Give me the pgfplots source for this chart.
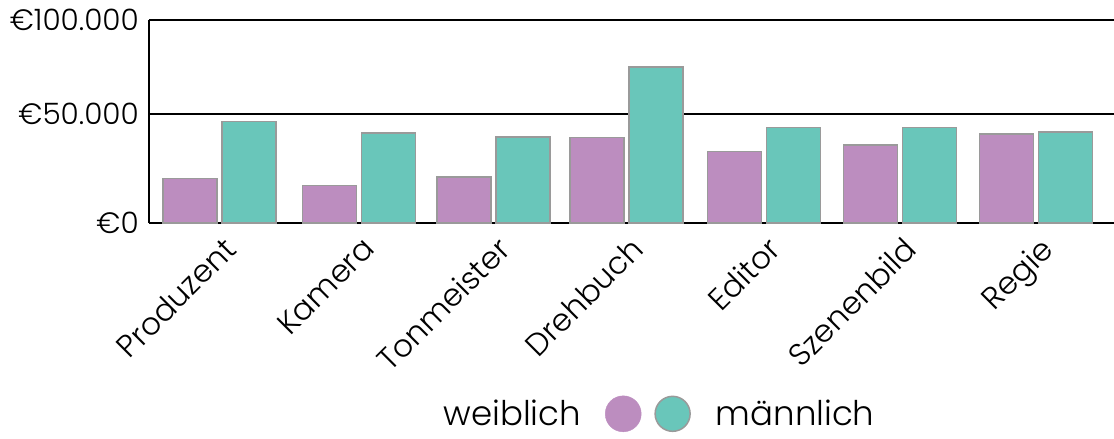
\documentclass[border=0pt]{standalone}
\usepackage{pgfplots}
\pgfplotsset{compat=1.18}
\usepackage{fontspec}
\setmainfont{Poppins}[UprightFont={* Light}]
\definecolor{weibl}{HTML}{BC8DBF}
\definecolor{maennl}{HTML}{69C6BA}
\definecolor{rand}{HTML}{9A9A9A}
\begin{document}
\begin{tikzpicture}
\begin{axis}[
  at={(0pt,0pt)}, anchor=south west,
  scale only axis, width=965pt, height=203pt,
  bar width=54pt,
  xmin=-0.518, xmax=6.572,
  ymin=0, ymax=100,
  y coord trafo/.code={\pgfmathparse{ifthenelse(#1<=50,#1,50+(#1-50)*0.8624)}},
  xtick={0,1.025,2.012,2.992,4,5,6},
  xticklabels={Produzent,Kamera,Tonmeister,Drehbuch,Editor,Szenenbild,Regie},
  x tick label style={rotate=45, anchor=north east, font=\fontsize{31}{36}\selectfont, inner sep=2pt, xshift=-5pt, yshift=-8pt},
  ytick={0,50,100},
  yticklabels={€0,€50.000,€100.000},
  y tick label style={font=\fontsize{29.5}{35}\selectfont, inner sep=0pt, xshift=-10pt},
  major tick length=0pt,
  axis lines=left, axis line style={-, black, line width=1.5pt},
  ymajorgrids, grid style={black, line width=1.3pt},
  legend style={at={(0.5285,-0.94)}, anchor=center, draw=none, fill=none,
    legend columns=3, font=\fontsize{34}{40}\selectfont,
    nodes={inner sep=0pt}, column sep=0pt},
  legend plot pos=right,
]
\addplot[ybar, bar shift=-29.5pt, fill=weibl, draw=rand, line width=1.5pt, forget plot] coordinates {(0,20.5) (1.025,17.1) (2.012,21.0) (2.992,39.3) (4,32.8) (5,35.8) (6,40.8)};
\addplot[ybar, bar shift=29.5pt, fill=maennl, draw=rand, line width=1.5pt, forget plot] coordinates {(0,46.5) (1.025,41.3) (2.012,39.45) (2.992,75.0) (4,43.7) (5,43.7) (6,41.7)};
\addlegendimage{legend image code/.code={\fill[weibl] (42pt,0pt) circle (18pt); \path (0pt,0pt) (66pt,0pt);}}
\addlegendentry{weiblich}
\addlegendimage{legend image code/.code={\draw[fill=maennl, draw=rand, line width=1.5pt] (24pt,0pt) circle (17.5pt); \path (0pt,0pt) (67pt,0pt);}}
\addlegendentry{}
\addlegendimage{empty legend}
\addlegendentry{männlich}
\end{axis}
\pgfresetboundingbox
\useasboundingbox (-149pt,-216pt) rectangle (965pt,223pt);
\end{tikzpicture}
\end{document}
